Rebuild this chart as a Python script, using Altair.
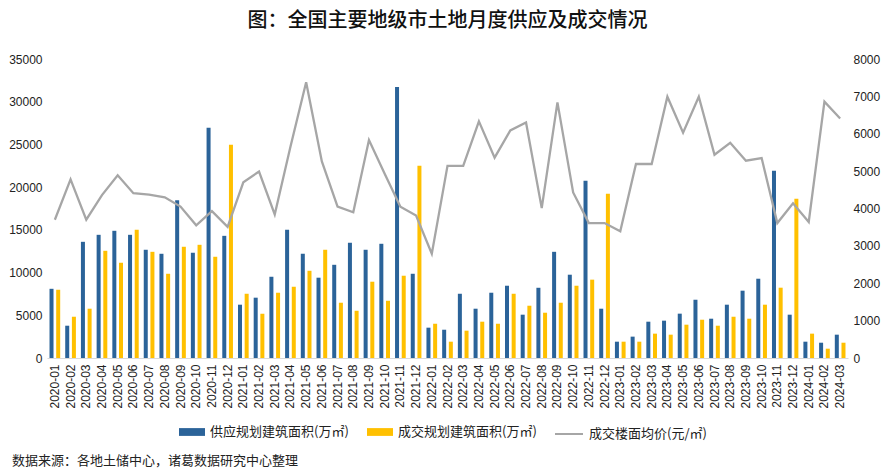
import altair as alt
import pandas as pd

months = [
    "2020-01", "2020-02", "2020-03", "2020-04", "2020-05", "2020-06",
    "2020-07", "2020-08", "2020-09", "2020-10", "2020-11", "2020-12",
    "2021-01", "2021-02", "2021-03", "2021-04", "2021-05", "2021-06",
    "2021-07", "2021-08", "2021-09", "2021-10", "2021-11", "2021-12",
    "2022-01", "2022-02", "2022-03", "2022-04", "2022-05", "2022-06",
    "2022-07", "2022-08", "2022-09", "2022-10", "2022-11", "2022-12",
    "2023-01", "2023-02", "2023-03", "2023-04", "2023-05", "2023-06",
    "2023-07", "2023-08", "2023-09", "2023-10", "2023-11", "2023-12",
    "2024-01", "2024-02", "2024-03",
]

supply = [8100, 3780, 13600, 14420, 14890, 14420, 12670, 12200, 18480, 12320, 26940, 14300,
          6240, 7060, 9510, 15000, 12200, 9400, 10910, 13490, 12670, 13370, 31730, 9860,
          3550, 3310, 7520, 5770, 7640, 8460, 5070, 8220, 12430, 9750, 20750, 5770,
          1910, 2500, 4250, 4370, 5190, 6820, 4600, 6240, 7880, 9280, 21910, 5070,
          1910, 1790, 2730]

deal = [7990, 4830, 5770, 12550, 11150, 15000, 12430, 9860, 13020, 13250, 11850, 24950,
        7520, 5180, 7640, 8340, 10210, 12670, 6470, 5530, 8930, 6700, 9630, 22490,
        4010, 1910, 3200, 4250, 4010, 7520, 6120, 5300, 6470, 8460, 9170, 19230,
        1910, 1910, 2850, 2730, 3900, 4480, 3780, 4830, 4600, 6240, 8230, 18640,
        2850, 1090, 1790]

price = [3700, 4780, 3700, 4360, 4890, 4410, 4370, 4300, 4050, 3550, 3930, 3510,
         4700, 4990, 3840, 5650, 7380, 5260, 4050, 3900, 5830, 4930, 4050, 3810,
         2790, 5140, 5140, 6330, 5360, 6090, 6300, 4010, 6840, 4430, 3610, 3610,
         3390, 5190, 5190, 6990, 6030, 6990, 5440, 5760, 5280, 5350, 3610, 4140,
         3640, 6860, 6410]

s_supply = "供应规划建筑面积(万㎡)"
s_deal = "成交规划建筑面积(万㎡)"
s_price = "成交楼面均价(元/㎡)"
title_text = "图：全国主要地级市土地月度供应及成交情况"
note_text = "数据来源：各地土储中心，诸葛数据研究中心整理"

BLUE = "#2B6399"
YELLOW = "#FFC000"
GRAY = "#A6A6A6"
CJK = "Noto Sans CJK SC"
NUM = "Liberation Sans"

bars_df = pd.DataFrame({
    "month": months * 2,
    "series": [s_supply] * len(months) + [s_deal] * len(months),
    "value": supply + deal,
})
line_df = pd.DataFrame({"month": months, "series": [s_price] * len(months), "price": price})
note_df = pd.DataFrame({"t": [note_text]})

x_enc = alt.X(
    "month:N", sort=months, title=None,
    scale=alt.Scale(paddingInner=0.15, paddingOuter=0.075),
    axis=alt.Axis(labelAngle=-90, labelFont=NUM, labelFontSize=12, labelColor="#222222",
                  ticks=False, domainColor="#D9D9D9", domainWidth=1, labelPadding=6,
                  grid=False),
)

bars = alt.Chart(bars_df).mark_bar().encode(
    x=x_enc,
    xOffset=alt.XOffset("series:N", sort=[s_supply, s_deal],
                        scale=alt.Scale(paddingInner=0.4, paddingOuter=0.2)),
    y=alt.Y("value:Q", title=None,
            scale=alt.Scale(domain=[0, 35000]),
            axis=alt.Axis(values=list(range(0, 35001, 5000)), format="d", orient="left", grid=False,
                          domain=False, ticks=False, labelFont=NUM, labelFontSize=12,
                          labelColor="#222222", labelPadding=5)),
    color=alt.Color("series:N", sort=[s_supply, s_deal],
                    scale=alt.Scale(domain=[s_supply, s_deal], range=[BLUE, YELLOW]),
                    legend=alt.Legend(orient="none", legendX=132, legendY=360, direction="horizontal",
                                      title=None, symbolType="M-1,-0.3H1V0.3H-1Z", symbolSize=676,
                                      symbolStrokeWidth=0, labelFont=CJK, labelFontSize=13,
                                      labelColor="#222222", labelOffset=5, columnPadding=18,
                                      labelLimit=300)),
)

line = alt.Chart(line_df).mark_line(strokeWidth=2.3).encode(
    x=alt.X("month:N", sort=months),
    y=alt.Y("price:Q", title=None,
            scale=alt.Scale(domain=[0, 8000]),
            axis=alt.Axis(values=list(range(0, 8001, 1000)), format="d", orient="right", grid=False,
                          domain=False, ticks=False, labelFont=NUM, labelFontSize=12,
                          labelColor="#222222", labelPadding=5)),
    stroke=alt.Stroke("series:N",
                      scale=alt.Scale(domain=[s_price], range=[GRAY]),
                      legend=alt.Legend(orient="none", legendX=507, legendY=360, title=None,
                                        symbolType="stroke", symbolSize=784, symbolStrokeWidth=2,
                                        labelFont=CJK, labelFontSize=13, labelColor="#222222",
                                        labelOffset=5, labelLimit=300)),
)

note = alt.Chart(note_df).mark_text(align="left", baseline="middle", font=CJK, fontSize=13,
                                    color="#222222").encode(
    x=alt.value(-35), y=alt.value(402), text="t:N")

chart = alt.layer(bars, line, note).resolve_scale(y="independent").properties(
    width=801, height=299,
    autosize=alt.AutoSizeParams(type="none"),
    padding={"left": 39, "top": 51, "right": 33, "bottom": 110},
    title=alt.TitleParams(title_text, font=CJK, fontSize=20, fontWeight=500,
                          color="#111111", anchor="middle", offset=22),
).configure_view(stroke=None)

chart.save("out.html", embed_options={"renderer": "svg", "actions": False})
